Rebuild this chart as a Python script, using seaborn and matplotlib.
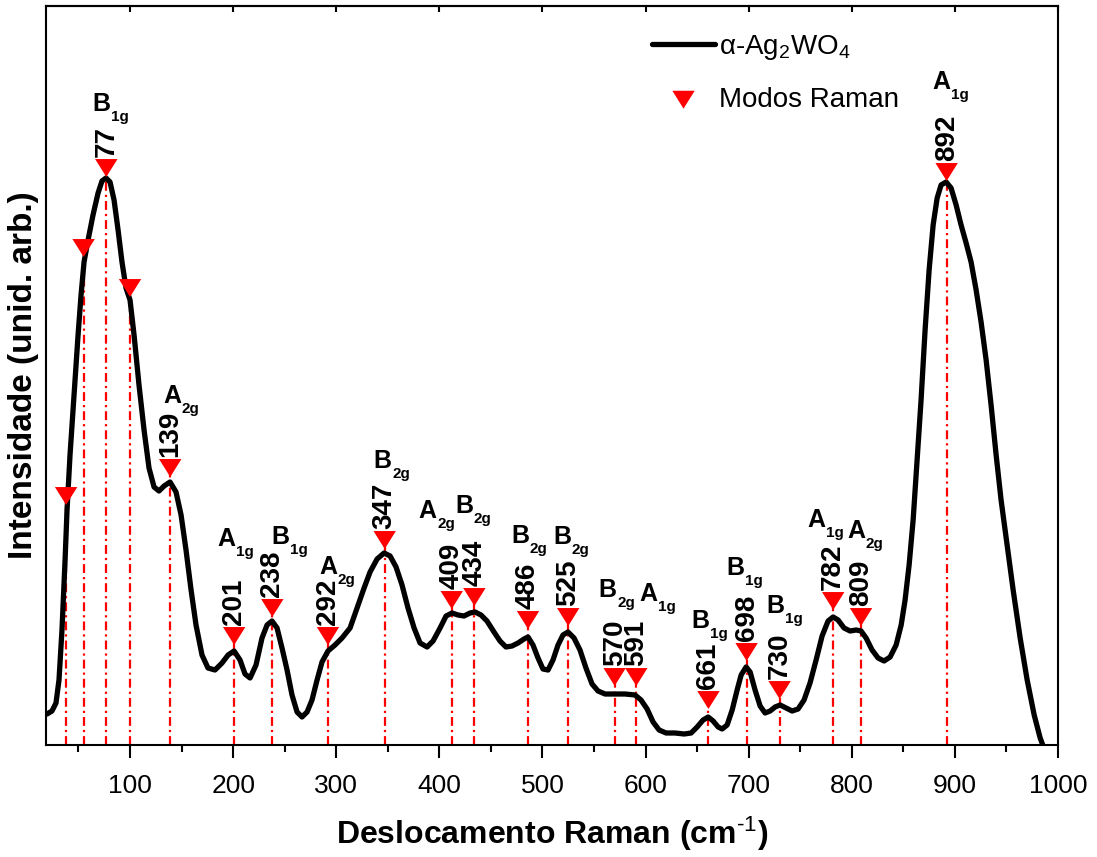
import numpy as np
import pandas as pd
import matplotlib
matplotlib.use("Agg")
import matplotlib.pyplot as plt
import seaborn as sns
from matplotlib.path import Path
from matplotlib.ticker import MultipleLocator

# ---------------- data ----------------
wavenumber = [19.5, 24.3, 28.2, 31.1, 34.0, 37.0, 38.9, 41.8, 45.7, 49.6, 52.5, 55.4, 59.3, 64.1,
              69.0, 72.8, 76.7, 80.6, 84.5, 88.4, 92.2, 96.1, 100.0, 103.9, 108.7, 113.6, 118.4,
              123.3, 128.1, 133.0, 138.8, 144.6, 149.5, 154.3, 159.2, 164.0, 169.8, 175.6, 182.4,
              189.2, 195.1, 200.9, 206.7, 211.5, 216.4, 222.2, 228.0, 232.9, 237.7, 242.6, 247.4,
              252.3, 257.1, 262.0, 266.8, 271.7, 276.5, 281.4, 286.2, 292.0, 298.8, 305.6, 313.4,
              320.2, 327.0, 332.8, 339.6, 346.4, 352.2, 358.0, 363.8, 369.6, 375.5, 381.3, 388.1,
              393.9, 400.7, 406.5, 412.3, 418.1, 423.9, 429.8, 434.6, 440.4, 446.2, 453.0, 458.8,
              464.6, 470.5, 476.3, 482.1, 486.0, 490.8, 495.7, 500.5, 505.4, 510.2, 515.1, 519.9,
              524.8, 530.6, 536.4, 542.2, 548.1, 553.9, 560.7, 570.4, 580.1, 589.8, 595.6, 601.5,
              607.3, 613.1, 619.9, 628.6, 637.4, 644.2, 650.0, 655.8, 660.7, 665.5, 670.4, 674.3,
              679.1, 684.0, 688.8, 692.7, 697.5, 701.4, 706.2, 711.1, 715.9, 720.8, 725.6, 730.5,
              736.3, 742.1, 747.9, 753.7, 759.5, 765.4, 771.2, 777.0, 781.9, 786.7, 792.5, 798.4,
              804.2, 809.0, 813.9, 819.7, 825.5, 831.3, 837.2, 843.0, 847.9, 851.7, 855.6, 859.5,
              863.4, 867.2, 871.1, 875.0, 878.9, 882.8, 886.6, 891.5, 896.3, 901.2, 906.0, 910.9,
              915.7, 920.6, 925.4, 930.3, 935.1, 940.0, 944.8, 950.6, 956.5, 963.3, 970.1, 976.9,
              982.7, 987.0]
intensity = [31, 34, 42, 65, 115, 185, 235, 290, 350, 410, 450, 483, 505, 530,
             552, 564, 567, 563, 545, 515, 483, 457, 445, 410, 360, 315, 277,
             258, 254, 259, 263, 253, 230, 195, 155, 120, 90, 77, 75,
             82, 90, 94, 85, 71, 67, 80, 107, 120, 124, 117, 97,
             75, 50, 33, 28, 33, 45, 65, 83, 94, 100, 107, 117,
             137, 157, 173, 186, 192, 189, 178, 160, 137, 117, 102, 98,
             104, 117, 129, 132, 130, 129, 132, 133, 130, 124, 113, 104,
             98, 99, 102, 106, 108, 100, 87, 76, 75, 85, 100, 110,
             113, 107, 95, 77, 61, 54, 51, 51, 51, 50, 45, 36,
             23, 15, 12, 12, 11, 12, 18, 25, 28, 24, 18, 16,
             20, 35, 55, 70, 78, 73, 55, 39, 32, 34, 38, 40,
             37, 34, 36, 45, 62, 85, 109, 124, 128, 125, 117, 114,
             115, 114, 107, 95, 87, 84, 88, 100, 120, 145, 180, 225,
             285, 345, 415, 475, 520, 547, 560, 563, 557, 540, 520, 502,
             483, 455, 423, 385, 340, 290, 245, 200, 155, 107, 65, 30,
             7, -5]
assert len(wavenumber) == len(intensity)

mode_pos = [38, 55, 77, 100, 139, 201, 238, 292, 347, 412, 434, 486, 525, 570, 591,
            661, 698, 730, 782, 809, 892]
mode_int = [249, 497, 577, 457, 277, 109, 137, 109, 205, 145, 148, 125, 128, 68, 68,
            45, 93, 55, 144, 128, 573]
mode_label = ['', '', '77', '', '139', '201', '238', '292', '347', '409', '434', '486',
              '525', '570', '591', '661', '698', '730', '782', '809', '892']
mode_sym = ['', '', 'B1g', '', 'A2g', 'A1g', 'B1g', 'A2g', 'B2g', 'A2g', 'B2g', 'B2g',
            'B2g', 'B2g', 'A1g', 'B1g', 'B1g', 'B1g', 'A1g', 'A2g', 'A1g']
x_ticks = [100, 200, 300, 400, 500, 600, 700, 800, 900, 1000]

# ---------------- layout (label offsets in pixels from marker centre, y downward) ----------------
sym_offset = [(0, 0), (0, 0), (-14, -57), (0, 0), (-7, -65), (-17, -90), (-1, -64), (-9, -62),
              (-11, -72), (-33, -82), (-19, -84), (-17, -77), (-15, -73), (-16, -80), (3, -76),
              (-17, -72), (-20, -77), (-13, -77), (-26, -74), (-14, -79), (-14, -83)]

# ---------------- style ----------------
sns.set_theme(style="white")
plt.rcParams['font.family'] = ['Liberation Sans', 'DejaVu Sans']
plt.rcParams['mathtext.fontset'] = 'custom'
plt.rcParams['mathtext.rm'] = 'Liberation Sans'
plt.rcParams['mathtext.bf'] = 'Liberation Sans:bold'
plt.rcParams['mathtext.it'] = 'Liberation Sans:italic'
plt.rcParams['mathtext.sf'] = 'Liberation Sans'
plt.rcParams['text.color'] = 'black'
plt.rcParams['axes.labelcolor'] = 'black'
plt.rcParams['xtick.color'] = 'black'
plt.rcParams['ytick.color'] = 'black'

fig = plt.figure(figsize=(10.97, 8.57), dpi=100)
ax = fig.add_axes([46 / 1097, 1 - 745 / 857, (1058 - 46) / 1097, (745 - 6) / 857])

df = pd.DataFrame({'w': wavenumber, 'I': intensity})
sns.lineplot(data=df, x='w', y='I', color='black', lw=3.8, sort=False, ax=ax,
             label='α-Ag$_2$WO$_4$', zorder=3, solid_joinstyle='round',
             solid_capstyle='round')

ax.vlines(mode_pos, 0, mode_int, colors='red', linestyles=[(0, (4, 1.8, 1, 1.8))],
          linewidth=1.6, zorder=2)

tri = Path([(-1, 0.8), (1, 0.8), (0, -0.8), (-1, 0.8)],
           [Path.MOVETO, Path.LINETO, Path.LINETO, Path.CLOSEPOLY])
sns.scatterplot(x=mode_pos, y=mode_int, marker=tri, s=260, color='red', edgecolor='none',
                linewidth=0, ax=ax, label='Modos Raman', zorder=4)

pt = 0.72  # points per pixel at 100 dpi
for pos, val, num, sym, off in zip(mode_pos, mode_int, mode_label, mode_sym, sym_offset):
    if num:
        ax.annotate(num, (pos, val), xytext=(0, 11 * pt), textcoords='offset points',
                    rotation=90, ha='center', va='bottom', fontsize=20, fontweight='bold',
                    color='black', zorder=5)
    if sym:
        ax.annotate(sym[0], (pos, val), xytext=(off[0] * pt, -off[1] * pt),
                    textcoords='offset points', ha='left', va='baseline', fontsize=18,
                    fontweight='bold', color='black', zorder=5)
        ax.annotate(sym[1:], (pos, val), xytext=((off[0] + 18.5) * pt, -(off[1] + 10) * pt),
                    textcoords='offset points', ha='left', va='baseline', fontsize=11,
                    fontweight='bold', color='black', zorder=5)

ax.set_xlim(18.5, 1000)
ax.set_ylim(0, 739)
ax.set_xticks(x_ticks)
ax.set_xticklabels([str(t) for t in x_ticks])
ax.xaxis.set_minor_locator(MultipleLocator(50))
ax.set_yticks([])
ax.tick_params(axis='x', which='major', direction='out', length=9, width=1.5,
               labelsize=19, pad=12, bottom=True, top=False, color='black', labelcolor='black')
ax.tick_params(axis='x', which='minor', direction='out', length=5, width=1.5,
               bottom=True, top=False, color='black')

secax = ax.secondary_xaxis('top')
secax.set_xticks(x_ticks)
secax.set_xticklabels([])
secax.tick_params(direction='in', length=4, width=1.5, color='black')
secax.spines['top'].set_linewidth(1.5)
secax.spines['top'].set_color('black')

for s in ax.spines.values():
    s.set_linewidth(1.5)
    s.set_color('black')

ax.set_xlabel('Deslocamento Raman (cm$^{\u2010 1}$)', fontsize=23, fontweight='bold',
              labelpad=12, color='black')
ax.set_ylabel('Intensidade (unid. arb.)', fontsize=24, fontweight='bold', labelpad=5,
              color='black')

leg = ax.legend(loc='upper left', bbox_to_anchor=(652 / 1097, 1 - 33 / 857),
                bbox_transform=fig.transFigure, frameon=False, fontsize=20, handlelength=2.27,
                handletextpad=0.15, labelspacing=0.9, borderpad=0, borderaxespad=0,
                scatterpoints=1)
for t in leg.get_texts():
    t.set_color('black')

fig.savefig('out.png', dpi=100)
